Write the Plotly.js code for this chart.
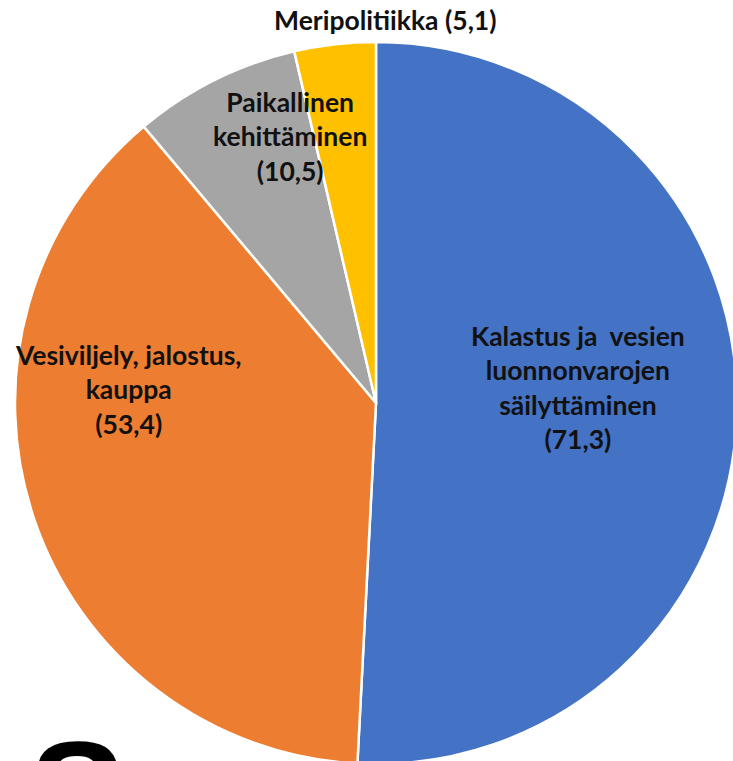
<!DOCTYPE html>
<html>
<head>
<meta charset="utf-8">
<script src="https://cdn.plot.ly/plotly-3.0.1.min.js"></script>
<style>
html, body { margin: 0; padding: 0; overflow: hidden; background: #fff; width: 733px; height: 761px; }
#chart { width: 740px; height: 770px; }
</style>
</head>
<body>
<div id="chart"></div>
<script>
const categories = [
  "Kalastus ja  vesien<br>luonnonvarojen<br>säilyttäminen",
  "Vesiviljely, jalostus,<br>kauppa",
  "Paikallinen<br>kehittäminen",
  "Meripolitiikka"
];
const values = [71.3, 53.4, 10.5, 5.1];
const valueLabels = ["71,3", "53,4", "10,5", "5,1"];
const colors = ["#4472C4", "#ED7D31", "#A5A5A5", "#FFC000"];

const W = 740, H = 770;
const px = x => x / W;
const py = y => 1 - y / H;

const labelPos = [
  {x: 578, y: 388},
  {x: 128, y: 389},
  {x: 290, y: 136},
  {x: 385, y: 20}
];

const annotations = categories.map((c, i) => ({
  text: i === 3 ? c + " (" + valueLabels[i] + ")" : c + "<br>(" + valueLabels[i] + ")",
  x: px(labelPos[i].x), y: py(labelPos[i].y),
  xref: "paper", yref: "paper",
  xanchor: "center", yanchor: "middle",
  showarrow: false,
  align: "center",
  font: {family: "Lato, 'Open Sans', sans-serif", size: 26.5, color: "#111111", weight: "bold"}
}));

annotations.push({
  text: "S",
  x: px(77), y: py(710),
  xref: "paper", yref: "paper",
  xanchor: "center", yanchor: "top",
  showarrow: false,
  font: {family: "Liberation Sans, sans-serif", size: 145, color: "#000", weight: "bold"}
});

const trace = {
  type: "pie",
  labels: categories,
  values: values,
  sort: false,
  direction: "clockwise",
  rotation: 0,
  textinfo: "none",
  hoverinfo: "label+value",
  marker: {colors: colors, line: {color: "#ffffff", width: 2.5}},
  domain: {x: [15 / W, 737 / W], y: [(H - 403 - 361) / H, (H - 403 + 361) / H]},
  showlegend: false
};

Plotly.newPlot("chart", [trace], {
  width: W, height: H,
  margin: {l: 0, r: 0, t: 0, b: 0},
  paper_bgcolor: "#fff",
  showlegend: false,
  annotations: annotations
}, {displayModeBar: false, staticPlot: true});
</script>
</body>
</html>
